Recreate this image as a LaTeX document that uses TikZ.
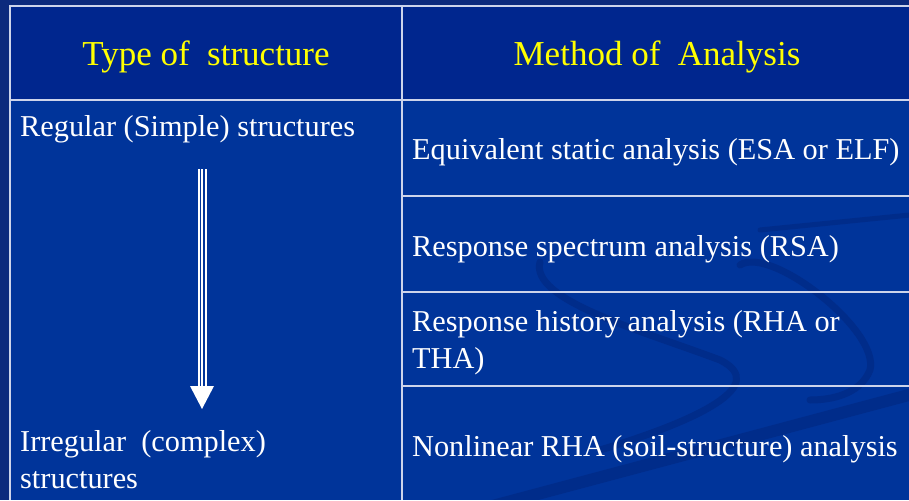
\documentclass[tikz,border=0pt]{standalone}
\usepackage{fontspec}
\setmainfont{Liberation Serif}
\definecolor{slidebg}{RGB}{12,42,125}
\definecolor{headfill}{RGB}{0,38,142}
\definecolor{bodyfill}{RGB}{0,52,154}
\definecolor{swirl}{RGB}{0,44,138}
\definecolor{gridline}{RGB}{205,212,235}
\definecolor{headtext}{RGB}{255,255,0}
\tikzset{
  headcell/.style={text=headtext, font=\fontsize{35}{40}\selectfont, anchor=base, inner sep=0pt},
  bodycell/.style={text=white, font=\fontsize{30.3}{37}\selectfont, anchor=base west, align=left, inner sep=0pt},
  swirlline/.style={swirl, line width=7pt, line cap=round},
}
\begin{document}
\begin{tikzpicture}[x=1pt,y=-1pt]
  \fill[slidebg] (0,0) rectangle (909,500);
  \useasboundingbox (0,0) rectangle (909,500);
  \fill[headfill] (10,6) rectangle (909,100);
  \fill[bodyfill] (10,100) rectangle (909,500);

  % faint background swirls
  \begin{scope}
    \clip (402,196) rectangle (909,499);
    \draw[swirlline] (540,262) .. controls (530,300) and (640,330) .. (720,360)
      .. controls (770,385) and (700,420) .. (600,450);
    \draw[swirlline] (740,265) .. controls (770,245) and (880,330) .. (870,370)
      .. controls (860,395) and (830,400) .. (810,400);
    \draw[swirlline, line width=12pt] (440,520) -- (920,392);
    \draw[swirlline, line width=5pt] (760,230) -- (920,214);
  \end{scope}

  % grid
  \draw[gridline, line width=2pt] (10,500) -- (10,6) -- (909,6);
  \draw[gridline, line width=1.2pt] (402,6) -- (402,500);
  \draw[gridline, line width=1.2pt] (10,100) -- (909,100);
  \foreach \y in {196,292,386}
    \draw[gridline, line width=1.2pt] (402,\y) -- (909,\y);

  % headers
  \node[headcell] (typehead) at (206,66) {Type of\ \ structure};
  \node[headcell] (methhead) at (657,66) {Method of\ \ Analysis};

  % left column
  \node[bodycell] (regular) at (20,136) {Regular (Simple) structures};
  \node[bodycell] (irregular) at (20,488) {Irregular\ \ (complex)\\structures};

  % right column
  \node[bodycell] (esa) at (412,159) {Equivalent static analysis (ESA or ELF)};
  \node[bodycell] (rsa) at (412,256) {Response spectrum analysis (RSA)};
  \node[bodycell] (rha) at (412,368) {Response history analysis (RHA or\\THA)};
  \node[bodycell] (nrha) at (412,456) {Nonlinear RHA (soil-structure) analysis};

  % arrow from regular to irregular
  \coordinate (arrtop) at (202,169);
  \coordinate (arrneck) at (202,386);
  \draw[white, line width=9pt] (arrtop) -- (arrneck);
  \draw[bodyfill, line width=5pt] (arrtop) -- (arrneck);
  \draw[white, line width=1.6pt] (arrtop) -- (arrneck);
  \fill[white] ([xshift=-12pt]arrneck) -- ([xshift=12pt]arrneck) -- ([yshift=-23pt]arrneck) -- cycle;
\end{tikzpicture}
\end{document}
